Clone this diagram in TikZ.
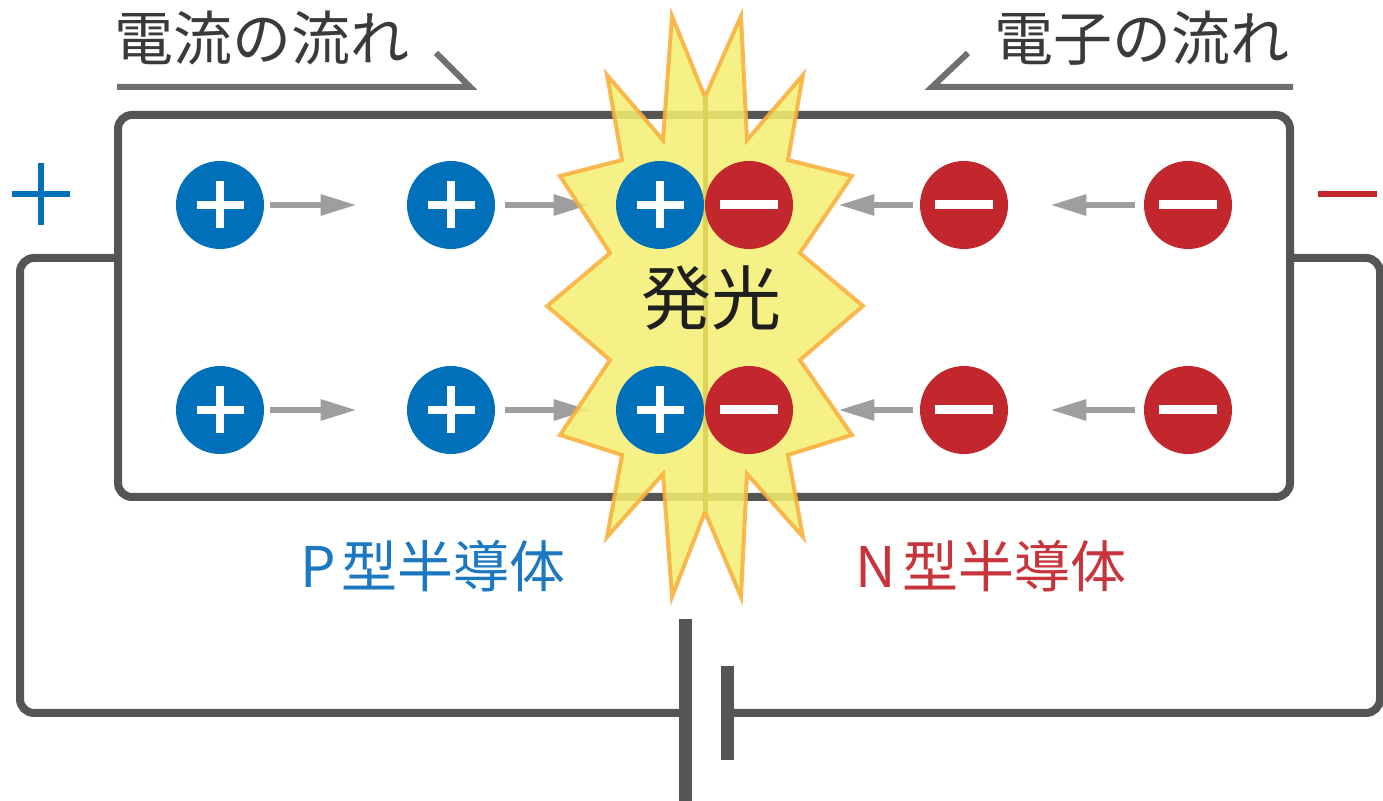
\documentclass[tikz,border=0pt]{standalone}
\usepackage{fontspec}
\newfontfamily\jp{Noto Sans CJK JP}
\usetikzlibrary{arrows.meta}
\definecolor{pblue}{HTML}{0070BA}
\definecolor{nred}{HTML}{C1272D}
\definecolor{ptext}{HTML}{1C78C0}
\definecolor{ntext}{HTML}{C8343C}
\definecolor{wire}{HTML}{555555}
\definecolor{leadgray}{HTML}{707070}
\definecolor{flowgray}{HTML}{9E9E9E}
\definecolor{burstfill}{HTML}{F4EF72}
\definecolor{burstedge}{HTML}{F9AE3B}
\definecolor{seam}{HTML}{DCD45A}
\definecolor{labelgray}{HTML}{3A3A3A}
\begin{document}
\begin{tikzpicture}[x=0.5pt,y=-0.5pt,
  wireline/.style={draw=wire, line width=4pt},
  leader/.style={draw=leadgray, line width=3pt},
  flow/.style={draw=flowgray, line width=3pt, -{Triangle[length=18pt,width=10pt]}},
  plate/.style={draw=wire, line width=6.5pt},
  toplabel/.style={font=\jp\fontsize{29.5pt}{30pt}\selectfont, text=labelgray, inner sep=0pt},
  sidelabel/.style={font=\jp\fontsize{28pt}{30pt}\selectfont, inner sep=0pt},
  hole/.style={circle, fill=pblue, minimum size=44pt, inner sep=0pt,
    path picture={
      \fill[white] ([xshift=-11.75pt,yshift=-2pt]path picture bounding box.center)
        rectangle ([xshift=11.75pt,yshift=2pt]path picture bounding box.center);
      \fill[white] ([xshift=-2pt,yshift=-11.75pt]path picture bounding box.center)
        rectangle ([xshift=2pt,yshift=11.75pt]path picture bounding box.center);}},
  electron/.style={circle, fill=nred, minimum size=44pt, inner sep=0pt,
    path picture={
      \fill[white] ([xshift=-14.5pt,yshift=-2.25pt]path picture bounding box.center)
        rectangle ([xshift=14.5pt,yshift=2.25pt]path picture bounding box.center);}},
]
\useasboundingbox (0,0) rectangle (1383,801);

% semiconductor block (P side left, N side right)
\node[draw=wire, line width=4pt, rounded corners=7pt,
      minimum width=586pt, minimum height=191pt, inner sep=0pt] (chip) at (704,306) {};

% external circuit with the battery
\coordinate (batp) at (685,713);
\coordinate (batn) at (727,713);
\draw[wireline, rounded corners=7pt] ([yshift=24pt]chip.west) -- (20,258) -- (20,713) -- (batp);
\draw[wireline, rounded corners=7pt] ([yshift=24pt]chip.east) -- (1380,258) -- (1380,713) -- (batn);
\draw[plate] (685,619) -- (685,806);
\draw[plate] (727,666) -- (727,760);

% terminal signs
\draw[pblue, line width=3pt] (12,194) -- (70,194) (41,163) -- (41,225);
\draw[nred, line width=3pt] (1318,194) -- (1377,194);

% flow labels with leader lines
\node[toplabel] (curlbl) at (262,38) {電流の流れ};
\node[toplabel] (elelbl) at (1142,38) {電子の流れ};
\draw[leader] (117,87) -- (470,87) -- (436,53);
\draw[leader] (1293,87) -- (932,87) -- (968,53);

% carriers
\foreach \n/\x/\y in {1/220/205, 2/451/205, 3/660/205, 4/220/410, 5/451/410, 6/660/410}
  \coordinate (hc\n) at (\x,\y);
\foreach \n/\x/\y in {1/749/205, 2/964/205, 3/1188/205, 4/749/410, 5/964/410, 6/1188/410}
  \coordinate (ec\n) at (\x,\y);

\node[hole] (h1) at (hc1) {};
\node[hole] (h2) at (hc2) {};
\node[hole] (h4) at (hc4) {};
\node[hole] (h5) at (hc5) {};
\node[electron] (e2) at (ec2) {};
\node[electron] (e3) at (ec3) {};
\node[electron] (e5) at (ec5) {};
\node[electron] (e6) at (ec6) {};

% junction carriers: placeholders for the arrows, painted after the burst
\path (hc3) node[hole, opacity=0] (h3) {} (hc6) node[hole, opacity=0] (h6) {}
      (ec1) node[electron, opacity=0] (e1) {} (ec4) node[electron, opacity=0] (e4) {};

% drift arrows
\draw[flow, shorten <=3pt, shorten >=25pt] (h1) -- (h2);
\draw[flow, shorten <=5pt, shorten >=13pt] (h2) -- (h3);
\draw[flow, shorten <=3pt, shorten >=25pt] (h4) -- (h5);
\draw[flow, shorten <=5pt, shorten >=13pt] (h5) -- (h6);
\draw[flow, shorten <=3.5pt, shorten >=22.5pt] (e2) -- (e1);
\draw[flow, shorten <=4.5pt, shorten >=21pt] (e3) -- (e2);
\draw[flow, shorten <=3.5pt, shorten >=22.5pt] (e5) -- (e4);
\draw[flow, shorten <=4.5pt, shorten >=21pt] (e6) -- (e5);

% light burst at the junction
\draw[fill=burstfill, draw=burstedge, line width=2pt, line join=miter, opacity=0.86]
  (672,16) -- (705,97) -- (741,16) -- (747,140) -- (803,75) -- (788,160) -- (852,176)
  -- (800,253) -- (863,306) -- (800,360) -- (852,435) -- (788,455) -- (803,537)
  -- (747,474) -- (741,597) -- (705,512) -- (672,597) -- (663,474) -- (607,537)
  -- (622,455) -- (560,435) -- (610,360) -- (547,306) -- (610,253) -- (560,176)
  -- (622,160) -- (607,75) -- (663,140) -- cycle;
\draw[seam, line width=2.5pt] (705,97) -- (705,512);

\node[hole] at (hc3) {};
\node[hole] at (hc6) {};
\node[electron] at (ec1) {};
\node[electron] at (ec4) {};

\node[font=\jp\fontsize{35pt}{36pt}\selectfont, text=black!88, inner sep=0pt] (glow) at (711,298) {発光};

% region labels
\node[sidelabel, text=ptext] (plbl) at (433,566) {P\hspace{3pt}型半導体};
\node[sidelabel, text=ntext] (nlbl) at (991,566) {N\hspace{3pt}型半導体};
\end{tikzpicture}
\end{document}
